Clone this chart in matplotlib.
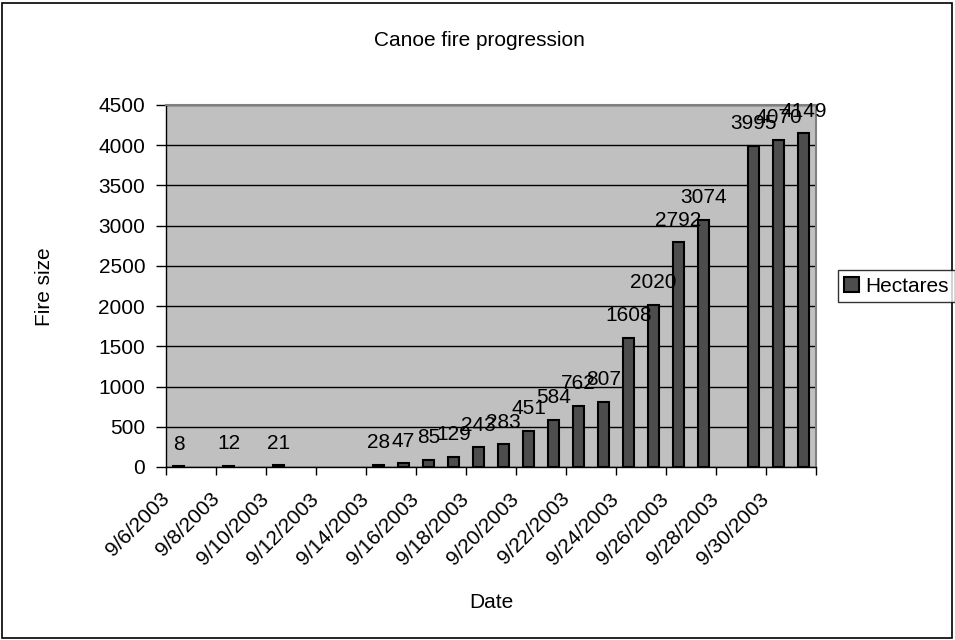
import numpy as np
import pandas as pd
import matplotlib
matplotlib.use('Agg')
import matplotlib.pyplot as plt
from matplotlib.patches import Rectangle

## DATA ##
dates = ["9/6/2003", "9/8/2003", "9/10/2003", "9/14/2003", "9/15/2003", "9/16/2003",
         "9/17/2003", "9/18/2003", "9/19/2003", "9/20/2003", "9/21/2003", "9/22/2003",
         "9/23/2003", "9/24/2003", "9/25/2003", "9/26/2003", "9/27/2003", "9/29/2003",
         "9/30/2003", "10/1/2003"]
hectares = [8, 12, 21, 28, 47, 85, 129, 243, 283, 451, 584, 762, 807, 1608, 2020,
            2792, 3074, 3995, 4070, 4149]
tick_labels = ["9/6/2003", "9/8/2003", "9/10/2003", "9/12/2003", "9/14/2003", "9/16/2003",
               "9/18/2003", "9/20/2003", "9/22/2003", "9/24/2003", "9/26/2003", "9/28/2003",
               "9/30/2003"]


def main():
    plt.rcParams['font.family'] = ['Liberation Sans', 'DejaVu Sans']
    FS = 15

    d = pd.to_datetime(pd.Series(dates), format="%m/%d/%Y")
    start = d.iloc[0]
    x = (d - start).dt.days.values
    tick_x = (pd.to_datetime(pd.Series(tick_labels), format="%m/%d/%Y") - start).dt.days.values
    ndays = int(x.max()) + 1

    W, H = 955, 640
    fig = plt.figure(figsize=(W / 100, H / 100), dpi=100)
    # plot area in pixels
    left, right, top, bottom = 166, 816, 105, 467
    ax = fig.add_axes([left / W, 1 - bottom / H, (right - left) / W, (bottom - top) / H])
    ax.set_facecolor('#c0c0c0')

    bars = ax.bar(x, hectares, width=0.44, color='#4d4d4d', edgecolor='black',
                  linewidth=1.5, label='Hectares', zorder=3)
    for xi, v in zip(x, hectares):
        ax.annotate(str(v), (xi, v), xytext=(0, 12), textcoords='offset points',
                    ha='center', va='baseline', fontsize=FS, zorder=4)

    ax.set_xlim(-0.5, ndays - 0.5)
    ax.set_ylim(0, 4500)
    ax.set_yticks(np.arange(0, 4501, 500))
    ax.yaxis.grid(True, color='black', linewidth=1)
    ax.set_axisbelow(True)

    # tick marks on day boundaries, labels every 2 days (drawn by hand, rotated)
    bounds = np.arange(-0.5, ndays, 2)
    ax.set_xticks(bounds)
    ax.set_xticklabels([])
    for t, lab in zip(tick_x, tick_labels):
        ax.annotate(lab, (t - 0.5, 0), xycoords=('data', 'axes fraction'),
                    xytext=(5, -16), textcoords='offset points', rotation=45,
                    ha='right', va='top', fontsize=FS, annotation_clip=False)

    ax.tick_params(axis='x', length=6, width=1, direction='out')
    ax.tick_params(axis='y', length=7, width=1, pad=8, direction='out', labelsize=FS)

    for s in ['top', 'right']:
        ax.spines[s].set_color('#808080')
        ax.spines[s].set_linewidth(1.5)
    for s in ['left', 'bottom']:
        ax.spines[s].set_color('black')
        ax.spines[s].set_linewidth(1)

    fig.text(479 / W, 1 - 40 / H, 'Canoe fire progression', ha='center', va='center', fontsize=FS)
    fig.text(44 / W, 1 - 287 / H, 'Fire size', ha='center', va='center', rotation=90, fontsize=FS)
    fig.text(491 / W, 1 - 603 / H, 'Date', ha='center', va='center', fontsize=FS)

    leg = fig.legend(handles=[bars], loc='center left', bbox_to_anchor=(838 / W, 1 - 286 / H),
                     fontsize=FS, frameon=True, fancybox=False, edgecolor='black',
                     handlelength=0.7, handleheight=0.7, handletextpad=0.3,
                     borderpad=0.3, borderaxespad=0)
    leg.get_frame().set_linewidth(1)

    # outer chart border
    fig.patches.append(Rectangle((2 / W, 2 / H), 1 - 5 / W, 1 - 5 / H, transform=fig.transFigure,
                                 fill=False, edgecolor='black', linewidth=1.2))

    plt.savefig('out.png', dpi=100)
    plt.close()


if __name__ == "__main__":
    main()
